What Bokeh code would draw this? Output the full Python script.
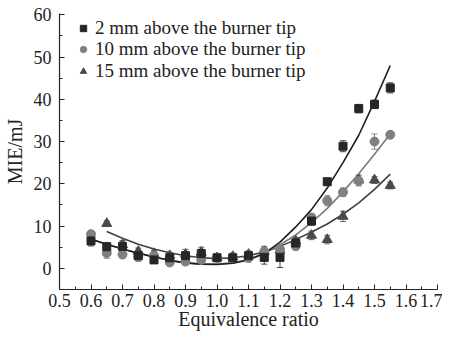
from bokeh.plotting import figure
from bokeh.models import (Range1d, FixedTicker, PrintfTickFormatter, Legend, LegendItem,
                          ColumnDataSource, Whisker, TeeHead)
from bokeh.embed import file_html
from bokeh.resources import INLINE

# ---- data ----
phi = [0.60, 0.65, 0.70, 0.75, 0.80, 0.85, 0.90, 0.95, 1.00, 1.05, 1.10, 1.15, 1.20, 1.25,
       1.30, 1.35, 1.40, 1.45, 1.50, 1.55]
mie_2mm = [6.5, 5.1, 5.2, 3.0, 2.0, 2.5, 3.0, 3.5, 2.5, 2.5, 3.0, 2.6, 2.6, 6.0,
           11.2, 20.5, 28.9, 37.8, 38.8, 42.7]
err_2mm = [1.2, 1.0, 1.0, 1.0, 0.8, 0.8, 1.0, 1.0, 0.8, 0.8, 1.0, 1.6, 2.4, 1.0,
           1.0, 0.8, 1.3, 1.0, 1.0, 1.2]
mie_10mm = [8.1, 3.6, 3.3, 2.7, 3.0, 1.4, 1.6, 2.0, 2.5, 2.5, 2.5, 4.0, 4.5, 5.3,
            12.0, 16.0, 18.0, 20.7, 30.0, 31.6]
err_10mm = [0.8, 1.2, 1.0, 1.0, 0.8, 0.8, 0.8, 0.8, 0.8, 0.8, 1.0, 1.0, 1.0, 1.0,
            1.0, 1.2, 1.0, 1.2, 1.8, 0.8]
phi_15 = phi[1:]
mie_15mm = [10.6, 5.6, 4.0, 3.5, 3.0, 3.3, 3.8, 2.5, 2.8, 3.3, 4.0, 4.3, 6.5,
            7.8, 6.8, 12.3, 20.9, 20.9, 19.6]
err_15mm = [0.6, 1.0, 0.8, 0.8, 0.8, 1.2, 1.2, 0.8, 0.8, 0.8, 1.2, 1.0, 0.8,
            1.0, 1.0, 1.2, 1.2, 0.8, 0.8]

fit_x = phi
fit_2mm = [6.9, 5.7, 4.6, 3.6, 2.7, 1.9, 1.3, 1.0, 0.9, 1.2, 2.0, 3.5, 6.2, 9.8,
           13.9, 19.0, 25.0, 31.5, 39.5, 48.0]
fit_10mm = [6.9, 5.7, 4.6, 3.6, 2.7, 1.9, 1.3, 1.0, 1.0, 1.3, 2.1, 3.6, 5.6, 7.9,
            10.8, 14.2, 18.1, 22.4, 27.0, 31.8]
fit_x15 = phi[1:]
fit_15mm = [8.7, 7.1, 5.7, 4.6, 3.7, 3.0, 2.5, 2.3, 2.5, 3.0, 3.9, 5.2, 6.8,
            8.6, 10.5, 12.8, 15.5, 18.7, 22.3]

x_ticks = [0.5, 0.6, 0.7, 0.8, 0.9, 1.0, 1.1, 1.2, 1.3, 1.4, 1.5, 1.6, 1.7]
y_ticks = [0, 10, 20, 30, 40, 50, 60]
labels = ["2 mm above the burner tip", "10 mm above the burner tip", "15 mm above the burner tip"]

FONT = "'Liberation Serif', 'DejaVu Serif', serif"
C1, C2, C3 = "#262626", "#808080", "#4a4a4a"
L1, L2, L3 = "#1e1e1e", "#7a7a7a", "#404040"

p = figure(width=442, height=332, output_backend="svg", toolbar_location=None,
           x_range=Range1d(0.5, 1.7), y_range=Range1d(-5, 60.3),
           min_border_left=59, min_border_right=5, min_border_top=13, min_border_bottom=42)
p.outline_line_color = None
p.grid.visible = False
p.background_fill_color = "white"
p.border_fill_color = "white"

for ax in (p.xaxis[0], p.yaxis[0]):
    ax.major_tick_in = 5
    ax.major_tick_out = 0
    ax.minor_tick_in = 3
    ax.minor_tick_out = 0
    ax.axis_line_color = "#222222"
    ax.major_tick_line_color = "#222222"
    ax.minor_tick_line_color = "#222222"
    ax.axis_line_width = 1.2
    ax.major_label_text_font = FONT
    ax.major_label_text_font_size = "18px"
    ax.major_label_text_color = "#222222"
    ax.axis_label_text_font = FONT
    ax.axis_label_text_font_size = "20px"
    ax.axis_label_text_font_style = "normal"
    ax.axis_label_text_color = "#222222"

p.xaxis.ticker = FixedTicker(ticks=x_ticks,
                             minor_ticks=[0.55 + 0.1 * i for i in range(12)])
p.xaxis.formatter = PrintfTickFormatter(format="%.1f")
p.xaxis.axis_label = "Equivalence ratio"
p.xaxis.major_label_standoff = 4
p.xaxis.axis_label_standoff = -2

p.yaxis.ticker = FixedTicker(ticks=y_ticks, minor_ticks=[-5, 5, 15, 25, 35, 45, 55])
p.yaxis.axis_label = "MIE/mJ"
p.yaxis.major_label_standoff = 8
p.yaxis.axis_label_standoff = 5

# fit curves
p.line(fit_x15, fit_15mm, line_color=L3, line_width=1.6)
p.line(fit_x, fit_10mm, line_color=L2, line_width=1.6)
p.line(fit_x, fit_2mm, line_color=L1, line_width=1.6)

def add_err(xs, ys, es, color):
    src = ColumnDataSource(dict(x=xs, lo=[y - e for y, e in zip(ys, es)],
                                hi=[y + e for y, e in zip(ys, es)]))
    w = Whisker(source=src, base="x", lower="lo", upper="hi", line_color=color,
                line_width=1,
                upper_head=TeeHead(size=6, line_color=color, line_width=1),
                lower_head=TeeHead(size=6, line_color=color, line_width=1))
    p.add_layout(w)

add_err(phi_15, mie_15mm, err_15mm, "#666666")
add_err(phi, mie_10mm, err_10mm, "#888888")
add_err(phi, mie_2mm, err_2mm, "#444444")

r3 = p.scatter(phi_15, mie_15mm, marker="triangle", size=10, fill_color=C3, line_color=C3)
r2 = p.scatter(phi, mie_10mm, marker="circle", size=9, fill_color=C2, line_color=C2)
r1 = p.scatter(phi, mie_2mm, marker="square", size=8, fill_color=C1, line_color=C1)

# one legend entry per row, so the row pitch matches the reference
for lab, rend, ybot in zip(labels, [r1, r2, r3], [250, 229, 207]):
    lg = Legend(items=[LegendItem(label=lab, renderers=[rend])],
                location=(16, ybot), padding=0, margin=0, spacing=0,
                glyph_width=16, glyph_height=20, label_height=20, label_standoff=4,
                label_text_font=FONT, label_text_font_size="19px",
                label_text_color="#222222",
                border_line_color=None, background_fill_alpha=0)
    p.add_layout(lg, "center")

open("out.html", "w").write(file_html(p, INLINE))
